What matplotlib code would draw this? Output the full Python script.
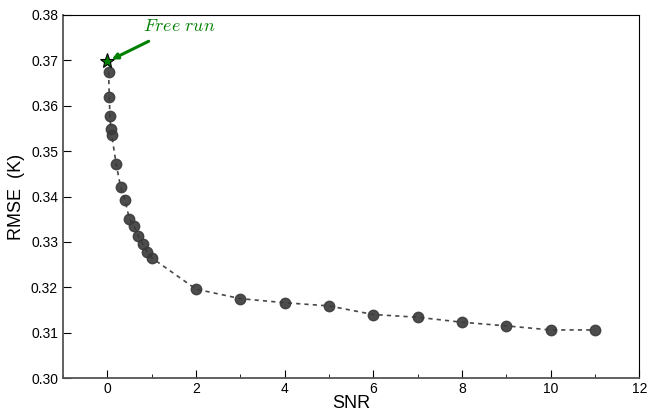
import matplotlib
matplotlib.use("Agg")
import matplotlib.pyplot as plt

plt.rcParams['font.family'] = ['Liberation Sans', 'DejaVu Sans']
plt.rcParams['mathtext.fontset'] = 'cm'

# data
snr = [0.03, 0.045, 0.06, 0.08, 0.1, 0.2, 0.3, 0.4, 0.5, 0.6, 0.7, 0.8, 0.9, 1.0,
       2, 3, 4, 5, 6, 7, 8, 9, 10, 11]
rmse = [0.3675, 0.3619, 0.3577, 0.3548, 0.3535, 0.3472, 0.3421, 0.3392, 0.3350,
        0.3336, 0.3313, 0.3295, 0.3278, 0.3265, 0.3196, 0.3175, 0.3166, 0.3159,
        0.3140, 0.3134, 0.3123, 0.3115, 0.3106, 0.3106]
free_snr = 0
free_rmse = 0.3699

fig = plt.figure(figsize=(6.49, 4.15), dpi=100)
ax = fig.add_axes([0.097, 0.089, 0.888, 0.875])

ax.plot(snr, rmse, linestyle='--', color='#333333', linewidth=1.2,
        marker='o', markersize=7.5, markerfacecolor='#3a3a3a',
        markeredgecolor='#3a3a3a', alpha=0.9, dashes=(2.5, 2.5))
ax.plot([free_snr], [free_rmse], marker='*', markersize=11, color='green',
        markeredgecolor='black', markeredgewidth=0.8, linestyle='none')

ax.annotate(r'$\it{Free\ run}$', xy=(free_snr + 0.1, free_rmse + 0.0003),
            xytext=(0.8, 0.3765), color='green', fontsize=13,
            arrowprops=dict(arrowstyle='-|>', color='green', lw=2.2,
                            mutation_scale=8, shrinkA=6, shrinkB=0))

ax.set_xlim(-1, 12)
ax.set_ylim(0.30, 0.38)
ax.set_xticks(range(0, 13, 2))
ax.set_xticks(range(-1, 12, 2), minor=True)
ax.set_yticks([0.30, 0.31, 0.32, 0.33, 0.34, 0.35, 0.36, 0.37, 0.38])
ax.set_yticklabels(['%.2f' % v for v in ax.get_yticks()])
ax.tick_params(axis='both', which='major', direction='in', length=6, labelsize=10)
ax.tick_params(axis='x', which='minor', direction='in', length=3)
ax.tick_params(axis='x', pad=3)

for s in ['left', 'bottom']:
    ax.spines[s].set_linewidth(1.3)
    ax.spines[s].set_color('#555555')
for s in ['top', 'right']:
    ax.spines[s].set_linewidth(0.8)

ax.set_xlabel('SNR', fontsize=13, labelpad=-1)
ax.set_ylabel('RMSE  (K)', fontsize=13, labelpad=4)

fig.savefig('out.png', dpi=100)
